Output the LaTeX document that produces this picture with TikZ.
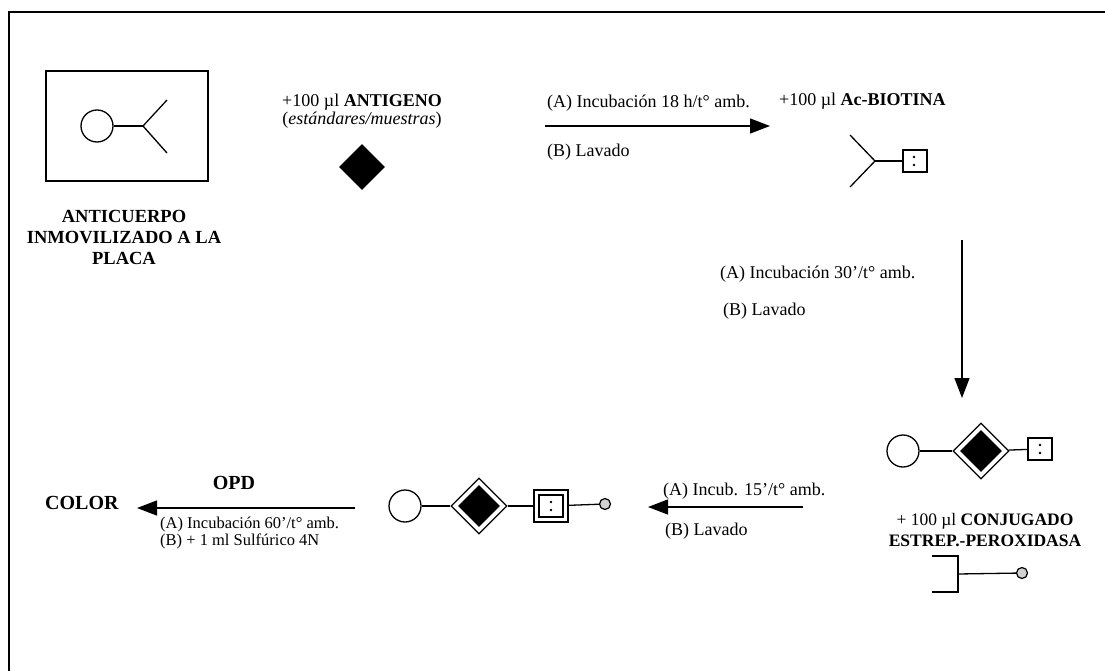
\documentclass[tikz,border=0pt]{standalone}
\usepackage{fontspec}
\setmainfont{Liberation Serif}
\usetikzlibrary{arrows.meta,shapes.geometric}
\begin{document}
\begin{tikzpicture}[x=1pt,y=-1pt,
  ln/.style={line width=1.3pt},
  arr/.style={line width=1.3pt,-{Triangle[length=20pt,width=15pt]}},
  txt/.style={font=\fontsize{18}{18}\selectfont,inner sep=0pt},
  capt/.style={font=\bfseries\fontsize{17.5}{20.5}\selectfont,inner sep=0pt,align=center},
  ring/.style={circle,draw,line width=1.3pt,minimum size=32pt,inner sep=0pt},
  sq/.style={draw,line width=1.3pt,minimum width=24pt,minimum height=22pt,inner sep=0pt},
  hrp/.style={circle,draw,line width=1.2pt,minimum size=11pt,inner sep=0pt,fill=gray!35},
  dmo/.style={diamond,draw,line width=1.3pt,minimum size=56pt,inner sep=0pt},
  dmi/.style={diamond,fill,minimum size=42pt,inner sep=0pt},
]
\useasboundingbox (0,0) rectangle (1105,671);
\draw[line width=1.5pt] (9,671) -- (9,12) -- (1105,12);

% plate antibody
\node[draw,ln,minimum width=162pt,minimum height=110pt,inner sep=0pt] (plate) at (127,126) {};
\node[ring] (c1) at (97,126) {};
\coordinate (y1) at (143,126);
\coordinate (y1a) at (167,100);
\coordinate (y1b) at (167,153);
\draw[ln] (c1) -- (y1);
\draw[ln] (y1a) -- (y1) -- (y1b);
\node[capt,font=\fontsize{18.5}{21}\selectfont\bfseries] (anticap) at (124,237) {ANTICUERPO\\INMOVILIZADO A LA\\PLACA};

% antigen
\node[txt,align=center] (ag) at (362,111) {+100 µl \textbf{ANTIGENO}\\(\textit{estándares/muestras})};
\node[diamond,fill,inner sep=0pt,minimum size=46pt] (agd) at (362,167) {};

% arrow 1
\coordinate (a1s) at (545,126);
\coordinate (a1e) at (770,126);
\draw[arr] (a1s) -- (a1e);
\node[txt,anchor=west] (a1A) at (547,103) {(A) Incubación 18 h/t° amb.};
\node[txt,anchor=west] (a1B) at (547,152) {(B) Lavado};

% Ac-biotin
\node[txt,anchor=west] (acb) at (779,101) {+100 µl \textbf{Ac-BIOTINA}};
\coordinate (yv) at (875,161);
\coordinate (yva) at (850,135);
\coordinate (yvb) at (850,187);
\draw[ln] (yva) -- (yv) -- (yvb);
\node[sq] (bsq) at (915,161) {};
\draw[ln] (yv) -- (bsq);
\fill (bsq.center) ++(-1,-4) circle (1.3pt) ++(0,8) circle (1.3pt);

% arrow 2
\coordinate (a2s) at (962,240);
\coordinate (a2e) at (962,398);
\draw[arr] (a2s) -- (a2e);
\node[txt,anchor=west] (a2A) at (720,274) {(A) Incubación 30'/t° amb.};
\node[txt,anchor=west] (a2B) at (723,311) {(B) Lavado};

% conjugate complex
\node[ring] (c2) at (903,451) {};
\node[dmo] (d2o) at (981,451) {};
\node[dmi] (d2i) at (981,451) {};
\node[sq] (s2) at (1040,449) {};
\fill (s2.center) ++(0,-4) circle (1.3pt) ++(0,8) circle (1.3pt);
\draw[ln] (c2) -- (d2o);
\draw[ln] (d2o) -- (s2);
\node[capt] (conjcap) at (985,530) {\textmd{+ 100 µl} CONJUGADO\\ESTREP.-PEROXIDASA};

% streptavidin-peroxidase
\coordinate (b1) at (932,556);
\coordinate (b2) at (958,556);
\coordinate (b3) at (958,592);
\coordinate (b4) at (932,592);
\coordinate (bm) at (958,574);
\node[hrp] (h1) at (1022,573) {};
\draw[ln] (b1) -- (b2) -- (b3) -- (b4);
\draw[ln] (bm) -- (h1);

% arrow 3
\coordinate (a3s) at (803,507);
\coordinate (a3e) at (648,507);
\draw[arr] (a3s) -- (a3e);
\node[txt,anchor=west] (a3A) at (663,491) {(A) Incub. 15'/t° amb.};
\node[txt,anchor=west] (a3B) at (665,531) {(B) Lavado};

% full complex
\node[ring] (c3) at (405,506) {};
\node[dmo] (d3o) at (479,506) {};
\node[dmi] (d3i) at (479,506) {};
\node[draw,line width=1.3pt,minimum width=34pt,minimum height=32pt,inner sep=0pt] (s3o) at (551,506) {};
\node[draw,line width=1.1pt,minimum width=24pt,minimum height=22pt,inner sep=0pt] (s3i) at (551,506) {};
\fill (s3i.center) ++(0,-4) circle (1.3pt) ++(0,8) circle (1.3pt);
\node[hrp] (h2) at (605,504) {};
\draw[ln] (c3) -- (d3o);
\draw[ln] (d3o) -- (s3o);
\draw[ln] (s3o) -- (h2);

% arrow 4
\coordinate (a4s) at (355,508);
\coordinate (a4e) at (137,508);
\draw[arr] (a4s) -- (a4e);
\node[capt,font=\bfseries\fontsize{20}{20}\selectfont] (opd) at (234,483) {OPD};
\node[capt,anchor=west,font=\bfseries\fontsize{20}{20}\selectfont] (color) at (45,503) {COLOR};
\node[txt,anchor=west,align=left,font=\fontsize{16.5}{16.5}\selectfont] (a4A) at (160,533) {(A) Incubación 60'/t° amb.\\(B) + 1 ml Sulfúrico 4N};
\end{tikzpicture}
\end{document}
